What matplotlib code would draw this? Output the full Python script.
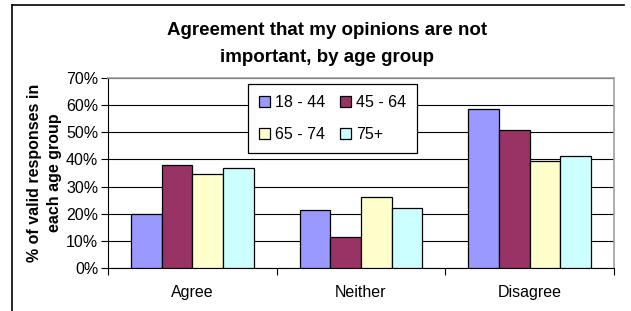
import numpy as np
import matplotlib
matplotlib.use("Agg")
import matplotlib.pyplot as plt
from matplotlib.lines import Line2D

plt.rcParams['font.family'] = ['Liberation Sans', 'DejaVu Sans']

# data
answers = ["Agree", "Neither", "Disagree"]
age_groups = ["18 - 44", "45 - 64", "65 - 74", "75+"]
pct_18_44 = [20, 21.5, 58.5]
pct_45_64 = [38, 11.5, 51]
pct_65_74 = [34.5, 26, 39.5]
pct_75_plus = [37, 22, 41.3]
colours = ["#9999FF", "#993366", "#FFFFCC", "#CCFFFF"]

series = [pct_18_44, pct_45_64, pct_65_74, pct_75_plus]

fig = plt.figure(figsize=(6.31, 3.11), dpi=100)
ax = fig.add_axes([108 / 631, 43 / 311, 506 / 631, 190 / 311])

x = np.arange(len(answers))
w = 1 / 5.5
bars = []
for i, vals in enumerate(series):
    b = ax.bar(x + (i - 1.5) * w, vals, w, color=colours[i], edgecolor="black",
               linewidth=0.9, label=age_groups[i], zorder=3)
    bars.append(b)

ax.set_xlim(-0.5, 2.5)
ax.set_ylim(0, 70)
ax.set_yticks(range(0, 71, 10))
ax.set_yticklabels([f"{v}%" for v in range(0, 71, 10)], fontsize=11.5)
ax.yaxis.grid(True, color="black", linewidth=0.8, zorder=0)
ax.set_xticks([-0.5, 0.5, 1.5, 2.5])
ax.set_xticklabels([])
ax.set_xticks(x, minor=True)
ax.set_xticklabels(answers, minor=True, fontsize=11.5)
ax.tick_params(axis="x", which="minor", length=0, pad=12)
ax.tick_params(axis="x", which="major", length=5, direction="out", width=0.8)
ax.tick_params(axis="y", length=5, direction="out", width=0.8, pad=2)

for side in ["left", "bottom"]:
    ax.spines[side].set_color("black")
    ax.spines[side].set_linewidth(0.8)
for side in ["top", "right"]:
    ax.spines[side].set_color("#A0A0A0")
    ax.spines[side].set_linewidth(1.2)

ax.set_ylabel("% of valid responses in\neach age group", fontsize=11.5,
              fontweight="bold", labelpad=3, linespacing=1.4)

fig.text(327 / 631, 1 - 44 / 311, "Agreement that my opinions are not\nimportant, by age group",
         ha="center", va="center", fontsize=13.5, fontweight="bold", linespacing=1.7)

# legend filled row by row, as in the reference
order = [0, 2, 1, 3]
leg = ax.legend([bars[i] for i in order], [age_groups[i] for i in order],
                ncol=2, loc="upper left", bbox_to_anchor=(140 / 506, 0.968),
                borderaxespad=0, fontsize=11.5, frameon=True, fancybox=False,
                edgecolor="black", framealpha=1, handlelength=0.7,
                handleheight=0.7, handletextpad=0.3, columnspacing=0.9,
                labelspacing=1.05, borderpad=0.7)
leg.get_frame().set_linewidth(0.9)
leg.set_zorder(5)

fig.add_artist(Line2D([12 / 631, 624 / 631], [1 - 5 / 311, 1 - 5 / 311],
                      transform=fig.transFigure, color="black", linewidth=1.2))
fig.add_artist(Line2D([12 / 631, 12 / 631], [1 - 5 / 311, 0],
                      transform=fig.transFigure, color="black", linewidth=1.2))

fig.savefig("out.png", dpi=100)
